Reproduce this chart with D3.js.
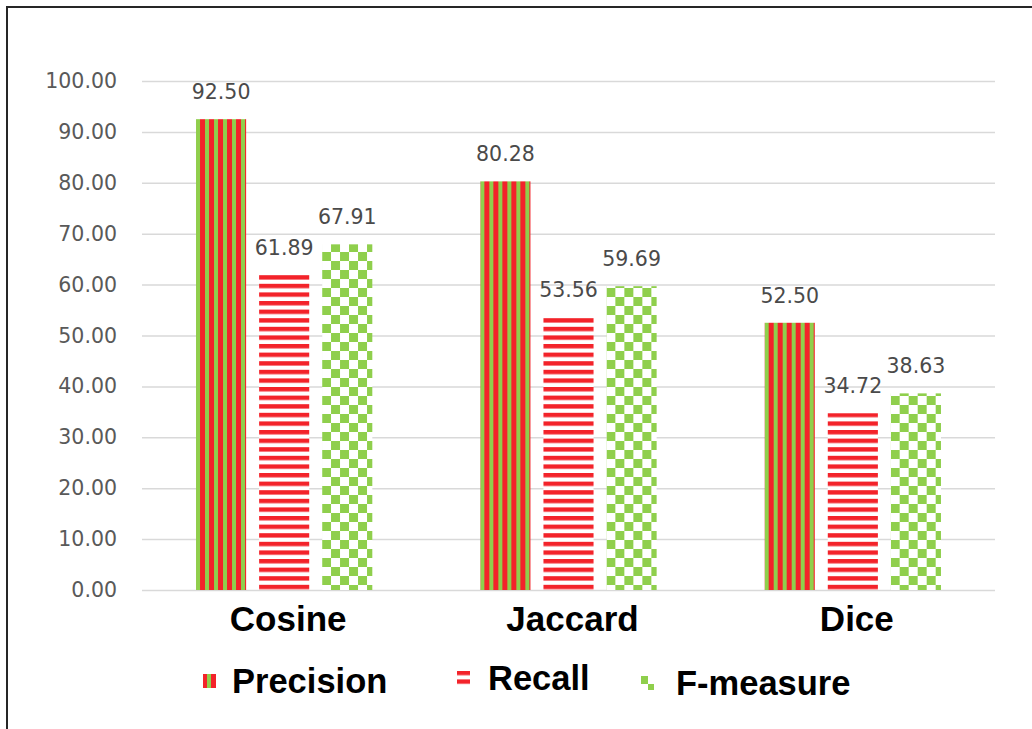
<!DOCTYPE html>
<html>
<head>
<meta charset="utf-8">
<script src="https://cdn.jsdelivr.net/npm/d3@7"></script>
<style>
  html, body { margin: 0; padding: 0; background: #fff; }
  svg { display: block; }
</style>
</head>
<body>
<svg id="chart" width="1032" height="729"></svg>
<script>
// Similarity measures compared by three retrieval metrics
const categories = ["Cosine", "Jaccard", "Dice"];
const series = ["Precision", "Recall", "F-measure"];
const precision = [92.50, 80.28, 52.50];
const recall = [61.89, 53.56, 34.72];
const fmeasure = [67.91, 59.69, 38.63];
const yTicks = [0, 10, 20, 30, 40, 50, 60, 70, 80, 90, 100];

const values = { "Precision": precision, "Recall": recall, "F-measure": fmeasure };

const RED = "#f3232a";
const GREEN = "#8fcf4c";

const svg = d3.select("#chart");

// patterns for each series
const defs = svg.append("defs");

const pPrec = defs.append("pattern")
  .attr("id", "pat-precision")
  .attr("patternUnits", "userSpaceOnUse")
  .attr("width", 9).attr("height", 10);
pPrec.append("rect").attr("width", 9).attr("height", 10).attr("fill", GREEN);
pPrec.append("rect").attr("x", 4).attr("width", 5).attr("height", 10).attr("fill", RED);

const pRec = defs.append("pattern")
  .attr("id", "pat-recall")
  .attr("patternUnits", "userSpaceOnUse")
  .attr("width", 10).attr("height", 8.6);
pRec.append("rect").attr("width", 10).attr("height", 8.6).attr("fill", "#fff");
pRec.append("rect").attr("y", 0).attr("width", 10).attr("height", 4.4).attr("fill", RED);

const pF = defs.append("pattern")
  .attr("id", "pat-fmeasure")
  .attr("patternUnits", "userSpaceOnUse")
  .attr("width", 18).attr("height", 18);
pF.append("rect").attr("width", 18).attr("height", 18).attr("fill", "#fff");
pF.append("rect").attr("width", 9).attr("height", 9).attr("fill", GREEN);
pF.append("rect").attr("x", 9).attr("y", 9).attr("width", 9).attr("height", 9).attr("fill", GREEN);

const fills = {
  "Precision": "url(#pat-precision)",
  "Recall": "url(#pat-recall)",
  "F-measure": "url(#pat-fmeasure)"
};

// outer frame (left and top edges visible)
svg.append("path")
  .attr("d", "M7,740 L7,7 L1040,7")
  .attr("fill", "none")
  .attr("stroke", "#262626")
  .attr("stroke-width", 2);

// scales
const plotLeft = 142, plotRight = 995, plotTop = 81, plotBottom = 590;

const y = d3.scaleLinear().domain([0, 100]).range([plotBottom, plotTop]);

const x0 = d3.scaleBand()
  .domain(categories)
  .range([plotLeft, plotRight])
  .paddingInner(0.38)
  .paddingOuter(0.19);

const x1 = d3.scaleBand()
  .domain(series)
  .range([0, x0.bandwidth()])
  .paddingInner(0.206);

// gridlines and y tick labels via axis
const yAxis = d3.axisLeft(y)
  .tickValues(yTicks)
  .tickSize(-(plotRight - plotLeft))
  .tickPadding(25)
  .tickFormat(d3.format(".2f"));

const gy = svg.append("g")
  .attr("transform", `translate(${plotLeft},0)`)
  .call(yAxis);
gy.select(".domain").remove();
gy.selectAll(".tick line")
  .attr("stroke", "#d9d9d9")
  .attr("stroke-width", 1.5);
gy.selectAll(".tick text")
  .attr("fill", "#595959")
  .style("font-family", "'DejaVu Sans', Verdana, sans-serif")
  .style("font-size", "20.5px");

// bars
const groups = svg.append("g").selectAll("g")
  .data(categories)
  .join("g")
  .attr("transform", d => `translate(${x0(d)},0)`);

groups.selectAll("rect")
  .data((c, i) => series.map(s => ({ s, v: values[s][i] })))
  .join("rect")
  .attr("x", d => x1(d.s))
  .attr("y", d => y(d.v))
  .attr("width", x1.bandwidth())
  .attr("height", d => y(0) - y(d.v))
  .attr("fill", d => fills[d.s]);

// value labels
groups.selectAll("text.val")
  .data((c, i) => series.map(s => ({ s, v: values[s][i] })))
  .join("text")
  .attr("class", "val")
  .attr("x", d => x1(d.s) + x1.bandwidth() / 2)
  .attr("y", d => y(d.v) - 20)
  .attr("text-anchor", "middle")
  .attr("fill", "#4a4a4a")
  .style("font-family", "'DejaVu Sans', Verdana, sans-serif")
  .style("font-size", "20.5px")
  .text(d => d3.format(".2f")(d.v));

// category labels
svg.append("g").selectAll("text")
  .data(categories)
  .join("text")
  .attr("x", d => x0(d) + x0.bandwidth() / 2 + 4)
  .attr("y", 631)
  .attr("text-anchor", "middle")
  .attr("fill", "#000")
  .style("font-family", "'Liberation Sans', Arial, sans-serif")
  .style("font-weight", "bold")
  .style("font-size", "35px")
  .text(d => d);

// legend
const legendItems = [
  { s: "Precision", sx: 203, tx: 232, cy: 681 },
  { s: "Recall", sx: 457, tx: 488, cy: 678 },
  { s: "F-measure", sx: 641, tx: 676, cy: 683 }
];

const lg = svg.append("g").selectAll("g")
  .data(legendItems)
  .join("g");

lg.append("rect")
  .attr("x", d => d.sx)
  .attr("y", d => d.cy - 7)
  .attr("width", 13)
  .attr("height", 14)
  .attr("fill", d => fills[d.s]);

lg.append("text")
  .attr("x", d => d.tx)
  .attr("y", d => d.cy + 12)
  .attr("fill", "#000")
  .style("font-family", "'Liberation Sans', Arial, sans-serif")
  .style("font-weight", "bold")
  .style("font-size", "34.5px")
  .text(d => d.s);
</script>
</body>
</html>
